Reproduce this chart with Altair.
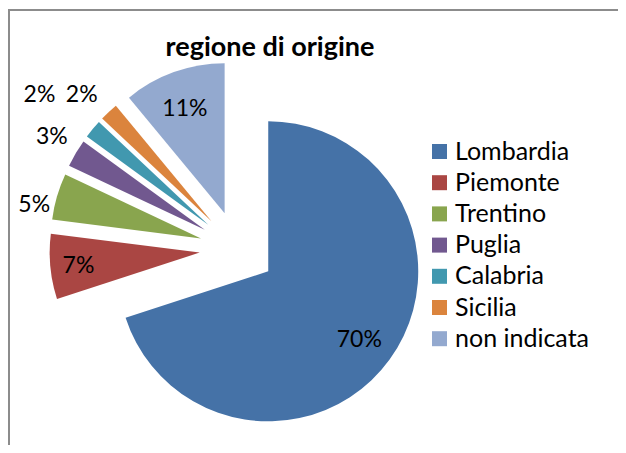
import altair as alt
import pandas as pd

# ---- data ----
regions = ["Lombardia", "Piemonte", "Trentino", "Puglia", "Calabria", "Sicilia", "non indicata"]
shares = [70, 7, 5, 3, 2, 2, 11]
labels = ["70%", "7%", "5%", "3%", "2%", "2%", "11%"]
colors = ["#4572A7", "#AA4643", "#89A54E", "#71588F", "#4198AF", "#DB843D", "#93A9CF"]
title_text = "regione di origine"

# ---- layout ----
W, H = 610, 437
CX, CY = 229.5, 241      # pie centre
R = 150                  # pie radius
EXPLODE = 38             # explosion distance of every slice
label_r = [114, 122, 170, 179, 213, 181, 112]       # label distance from slice tip
label_shift = [1, -1, -5, 0.7, -2, -2.6, -1]        # label angle nudge (deg)
FONT = "Lato"
FS = 23
FRAME = "#8c8c8c"

df = pd.DataFrame({
    "region": regions, "share": shares, "label": labels,
    "order": list(range(len(regions))), "lr": label_r, "ls": label_shift,
})

base = alt.Chart(df).transform_joinaggregate(
    total="sum(share)"
).transform_window(
    cum="sum(share)", sort=[alt.SortField("order")], frame=[None, 0]
).transform_calculate(
    t0="2*PI*(datum.cum - datum.share)/datum.total",
    t1="2*PI*datum.cum/datum.total",
).transform_calculate(
    tm="(datum.t0 + datum.t1)/2",
).transform_calculate(
    px=f"{CX} + {EXPLODE}*sin(datum.tm)",
    py=f"{CY} - {EXPLODE}*cos(datum.tm)",
).transform_calculate(
    lx="datum.px + datum.lr*sin(datum.tm + datum.ls*PI/180)",
    ly="datum.py - datum.lr*cos(datum.tm + datum.ls*PI/180)",
)

arcs = base.mark_arc(radius=R, stroke=None).encode(
    x=alt.X("px:Q", scale=None, axis=None),
    y=alt.Y("py:Q", scale=None, axis=None),
    theta=alt.Theta("t0:Q", scale=None),
    theta2="t1:Q",
    color=alt.Color(
        "region:N",
        scale=alt.Scale(domain=regions, range=colors),
        sort=regions,
        legend=alt.Legend(
            title=None, orient="none", legendX=419, legendY=131,
            symbolType="square", symbolSize=225, symbolStrokeWidth=0,
            symbolOpacity=1, labelFont=FONT, labelFontSize=25,
            labelColor="black", rowPadding=5.2, labelOffset=3,
            padding=0, labelLimit=300,
        ),
    ),
)

texts = base.mark_text(font=FONT, fontSize=FS, color="black",
                       align="center", baseline="middle").encode(
    x=alt.X("lx:Q", scale=None, axis=None),
    y=alt.Y("ly:Q", scale=None, axis=None),
    text="label:N",
)

one = pd.DataFrame({"k": [0]})
title = alt.Chart(one).mark_text(font=FONT, fontSize=27, fontWeight="bold",
                                 color="black", align="center",
                                 baseline="middle").encode(
    x=alt.value(262), y=alt.value(40), text=alt.value(title_text))

frame_top = alt.Chart(one).mark_rule(color=FRAME, strokeWidth=2).encode(
    x=alt.value(0), x2=alt.value(W), y=alt.value(2))
frame_left = alt.Chart(one).mark_rule(color=FRAME, strokeWidth=2).encode(
    x=alt.value(1), y=alt.value(2), y2=alt.value(H))

chart = alt.layer(frame_top, frame_left, arcs, texts, title).properties(
    width=W, height=H, autosize="none", padding=0
).configure_view(stroke=None)

chart.save("out.html", embed_options={"renderer": "svg", "actions": False})
